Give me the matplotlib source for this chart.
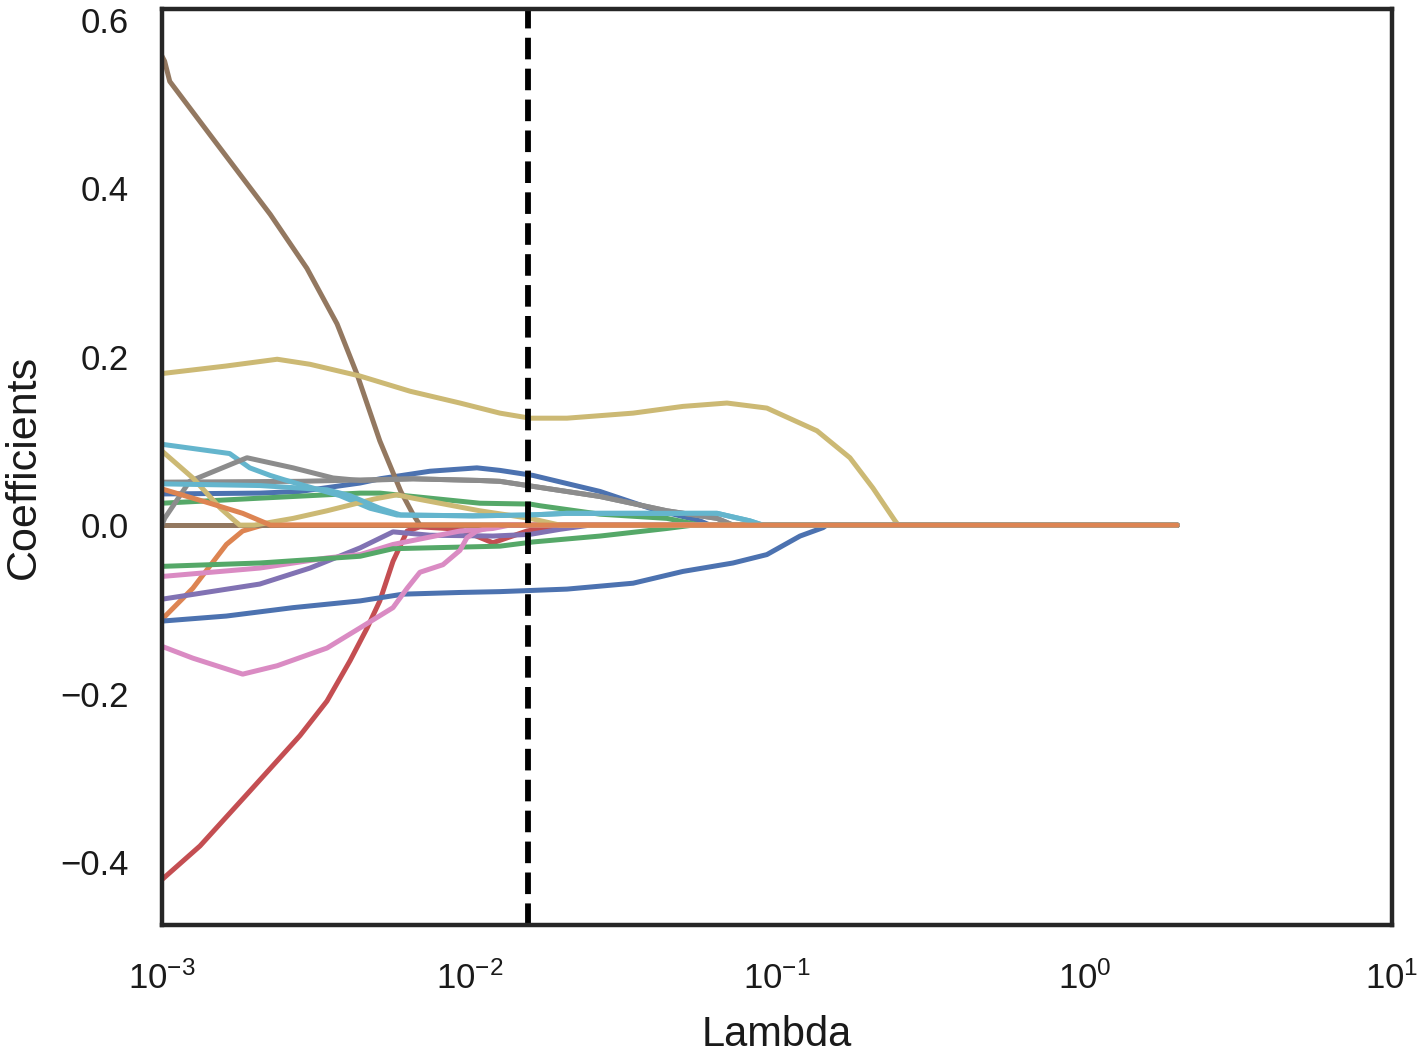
import matplotlib
matplotlib.use('Agg')
import matplotlib.pyplot as plt
import seaborn as sns

# coefficient paths: (lambda, coefficient) knots per feature
blue_top_lam = [0.001, 0.00208, 0.00281, 0.00441, 0.00511, 0.00744, 0.01057, 0.01256, 0.0161, 0.02656, 0.03864, 0.05623, 0.06053, 2.0]
blue_top_coef = [0.037, 0.038, 0.040, 0.050, 0.055, 0.064, 0.068, 0.065, 0.059, 0.040, 0.020, 0.005, 0.0, 0.0]

orange_b_lam = [0.001, 0.00126, 0.00162, 0.00183, 0.00208, 0.00215, 2.0]
orange_b_coef = [-0.112, -0.075, -0.023, -0.007, -0.001, 0.0, 0.0]

green_a_lam = [0.001, 0.00208, 0.00441, 0.00511, 0.00744, 0.01081, 0.01573, 0.01695, 0.02656, 0.04385, 0.05623, 2.0]
green_a_coef = [0.026, 0.032, 0.038, 0.038, 0.032, 0.026, 0.025, 0.023, 0.013, 0.008, 0.0, 0.0]

red_lam = [0.001, 0.00133, 0.00193, 0.00281, 0.00344, 0.00409, 0.00465, 0.00511, 0.00564, 0.00627, 0.0069, 0.00931, 0.01191, 0.01538, 0.01968, 2.0]
red_coef = [-0.421, -0.381, -0.316, -0.25, -0.209, -0.161, -0.122, -0.09, -0.043, -0.007, -0.002, -0.005, -0.021, -0.007, 0.0, 0.0]

purple_lam = [0.001, 0.00208, 0.00303, 0.00441, 0.00564, 0.00744, 0.01191, 0.01573, 0.01968, 0.02466, 2.0]
purple_coef = [-0.088, -0.07, -0.051, -0.027, -0.008, -0.012, -0.013, -0.011, -0.005, 0.0, 0.0]

brown_big_lam = [0.001, 0.00102, 0.00106, 0.00143, 0.00225, 0.00296, 0.00371, 0.00431, 0.00511, 0.00598, 0.00655, 0.0069, 2.0]
brown_big_coef = [0.557, 0.551, 0.527, 0.464, 0.369, 0.305, 0.239, 0.179, 0.10, 0.04, 0.013, 0.0, 0.0]

pink_a_lam = [0.001, 0.00208, 0.00344, 0.00441, 0.00564, 0.00931, 0.01191, 0.0135, 2.0]
pink_a_coef = [-0.061, -0.051, -0.039, -0.035, -0.023, -0.007, -0.004, 0.0, 0.0]

gray_a_lam = [0.001, 0.00281, 0.00655, 0.01081, 0.01256, 0.0161, 0.02656, 0.04385, 0.06382, 0.0719, 2.0]
gray_a_coef = [0.051, 0.052, 0.055, 0.053, 0.052, 0.046, 0.034, 0.017, 0.008, 0.0, 0.0]

olive_big_lam = [0.001, 0.00162, 0.00237, 0.00303, 0.00441, 0.00641, 0.00931, 0.01256, 0.01573, 0.02075, 0.03404, 0.04943,
                 0.06875, 0.09268, 0.1349, 0.1726, 0.2051, 0.2421, 0.2479, 2.0]
olive_big_coef = [0.180, 0.189, 0.197, 0.191, 0.177, 0.159, 0.145, 0.133, 0.127, 0.127, 0.133, 0.141,
                  0.145, 0.139, 0.112, 0.080, 0.044, 0.005, 0.0, 0.0]

cyan_a_lam = [0.001, 0.00166, 0.00193, 0.00225, 0.00249, 0.00303, 0.00379, 0.00475, 0.00581, 0.01026, 0.01573, 0.02075,
              0.06382, 0.08166, 0.08995, 2.0]
cyan_a_coef = [0.096, 0.085, 0.068, 0.059, 0.054, 0.045, 0.035, 0.020, 0.012, 0.011, 0.012, 0.014,
               0.014, 0.005, 0.0, 0.0]

blue_bottom_lam = [0.001, 0.00162, 0.00267, 0.00441, 0.00608, 0.00931, 0.01256, 0.02075, 0.03404, 0.04943, 0.0719,
                   0.09268, 0.1188, 0.1412, 0.145, 2.0]
blue_bottom_coef = [-0.114, -0.108, -0.098, -0.09, -0.082, -0.08, -0.079, -0.076, -0.069, -0.055, -0.045,
                    -0.035, -0.013, -0.003, 0.0, 0.0]

brown_zero_lam = [0.001, 2.0]
brown_zero_coef = [0.0, 0.0]

green_b_lam = [0.001, 0.00208, 0.00441, 0.00564, 0.01256, 0.0161, 0.02656, 0.04385, 0.05331, 2.0]
green_b_coef = [-0.049, -0.045, -0.037, -0.028, -0.025, -0.020, -0.013, -0.004, 0.0, 0.0]

pink_b_lam = [0.001, 0.00126, 0.00183, 0.00237, 0.00344, 0.00441, 0.00564, 0.00627, 0.0069, 0.0082, 0.00931, 0.00981,
              0.01057, 0.01191, 0.0125, 2.0]
pink_b_coef = [-0.144, -0.158, -0.177, -0.167, -0.146, -0.122, -0.098, -0.075, -0.056, -0.047, -0.03, -0.015,
               -0.007, -0.002, 0.0, 0.0]

gray_b_lam = [0.001, 0.00102, 0.00123, 0.00189, 0.00267, 0.0036, 0.00441, 0.00655, 0.01081, 0.01256, 0.0161, 0.02656,
              0.04385, 0.06382, 0.0719, 2.0]
gray_b_coef = [0.0, 0.008, 0.052, 0.080, 0.068, 0.056, 0.053, 0.055, 0.053, 0.052, 0.046, 0.034,
               0.017, 0.008, 0.0, 0.0]

olive_b_lam = [0.001, 0.00126, 0.00155, 0.0017, 0.00179, 0.002, 0.00267, 0.00344, 0.0049, 0.00581, 0.00655, 0.01081,
               0.01573, 0.01968, 2.0]
olive_b_coef = [0.088, 0.056, 0.020, 0.007, 0.0, 0.0, 0.008, 0.017, 0.031, 0.036, 0.032, 0.017,
                0.008, 0.0, 0.0]

cyan_b_lam = [0.001, 0.00208, 0.00344, 0.00409, 0.00511, 0.00598, 0.01026, 0.01573, 0.02075, 0.06382, 0.08166, 0.08995, 2.0]
cyan_b_coef = [0.049, 0.047, 0.042, 0.035, 0.020, 0.012, 0.011, 0.012, 0.014, 0.014, 0.005, 0.0, 0.0]

orange_a_lam = [0.001, 0.00143, 0.00183, 0.00219, 0.00225, 2.0]
orange_a_coef = [0.043, 0.026, 0.014, 0.002, 0.0, 0.0]

best_lambda = 0.0155

sns.set_style('white')
plt.rcParams['font.family'] = ['Liberation Sans', 'DejaVu Sans']
plt.rcParams['mathtext.fontset'] = 'custom'
plt.rcParams['mathtext.rm'] = 'Liberation Sans'
plt.rcParams['mathtext.it'] = 'Liberation Sans'
plt.rcParams['mathtext.bf'] = 'Liberation Sans:bold'

pal = sns.color_palette('deep')
paths = [
    (blue_top_lam, blue_top_coef, pal[0]),
    (orange_b_lam, orange_b_coef, pal[1]),
    (green_a_lam, green_a_coef, pal[2]),
    (red_lam, red_coef, pal[3]),
    (purple_lam, purple_coef, pal[4]),
    (brown_big_lam, brown_big_coef, pal[5]),
    (pink_a_lam, pink_a_coef, pal[6]),
    (gray_a_lam, gray_a_coef, pal[7]),
    (olive_big_lam, olive_big_coef, pal[8]),
    (cyan_a_lam, cyan_a_coef, pal[9]),
    (blue_bottom_lam, blue_bottom_coef, pal[0]),
    (brown_zero_lam, brown_zero_coef, pal[5]),
    (green_b_lam, green_b_coef, pal[2]),
    (pink_b_lam, pink_b_coef, pal[6]),
    (gray_b_lam, gray_b_coef, pal[7]),
    (olive_b_lam, olive_b_coef, pal[8]),
    (cyan_b_lam, cyan_b_coef, pal[9]),
    (orange_a_lam, orange_a_coef, pal[1]),
]

fig = plt.figure(figsize=(14.17, 10.56), dpi=100)
ax = fig.add_axes([0.1143, 0.124, 0.9824 - 0.1143, 0.9915 - 0.124])

for lam, coef, col in paths:
    ax.plot(lam, coef, color=col, lw=3.6, solid_joinstyle='round')

ax.axvline(best_lambda, color='black', ls='--', lw=4.2)

ax.set_xscale('log')
ax.set_xlim(1e-3, 1e1)
ax.set_ylim(-0.475, 0.613)
ax.set_yticks([-0.4, -0.2, 0.0, 0.2, 0.4, 0.6])
ax.yaxis.set_major_formatter(matplotlib.ticker.FuncFormatter(lambda v, p: f'{v:.1f}'.replace('-', '\u2212')))
ax.set_xticks([1e-3, 1e-2, 1e-1, 1e0, 1e1])
ax.minorticks_off()
ax.tick_params(axis='both', length=0, labelsize=25, colors='#1a1a1a')
ax.tick_params(axis='y', pad=24)
ax.tick_params(axis='x', pad=26)

for s in ax.spines.values():
    s.set_color('#262626')
    s.set_linewidth(3.2)

ax.set_xlabel('Lambda', fontsize=30, color='#1a1a1a', labelpad=14)
ax.set_ylabel('Coefficients', fontsize=31, color='#1a1a1a', labelpad=12)

fig.savefig('out.png', dpi=100)
